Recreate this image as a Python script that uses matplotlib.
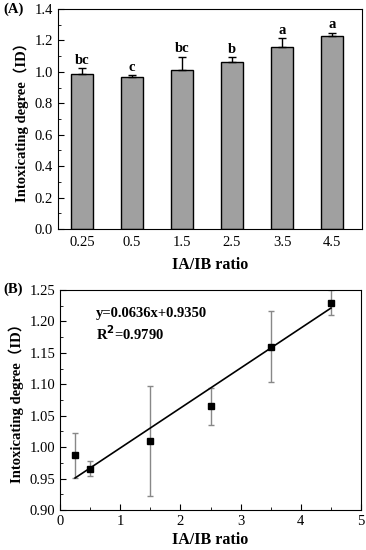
import matplotlib.pyplot as plt
import numpy as np

# IA/IB ratios and intoxicating degree
ratios = [0.25, 0.5, 1.5, 2.5, 3.5, 4.5]
ratio_labels = ['0.25', '0.5', '1.5', '2.5', '3.5', '4.5']
id_mean = [0.987, 0.966, 1.010, 1.065, 1.160, 1.230]
id_err = [0.036, 0.012, 0.087, 0.029, 0.057, 0.020]
sig_letters = ['bc', 'c', 'bc', 'b', 'a', 'a']

# linear fit shown in panel B
slope = 0.0636
intercept = 0.9350
r2 = 0.9790

serif = ['Liberation Serif', 'Noto Sans CJK SC']
plt.rcParams['font.family'] = serif
plt.rcParams['font.size'] = 10.5
plt.rcParams['xtick.direction'] = 'in'
plt.rcParams['ytick.direction'] = 'in'

fig = plt.figure(figsize=(3.66, 5.5), dpi=100)

# ---- Panel A: bars ----
ax1 = fig.add_axes([58 / 366, 1 - 229 / 550, 304 / 366, 220 / 550])
pos = np.arange(len(ratios))
ax1.bar(pos, id_mean, width=0.44, color='#a0a0a0', edgecolor='black', linewidth=1.0,
        yerr=[np.zeros(len(id_err)), id_err], capsize=3,
        error_kw=dict(elinewidth=1.0, capthick=1.0, ecolor='black'))
for p, m, e, s in zip(pos, id_mean, id_err, sig_letters):
    ax1.text(p, m + e + 0.008, s, ha='center', va='bottom', fontsize=10.5, fontweight='bold')
ax1.set_xlim(-0.48, 5.6)
ax1.set_ylim(0, 1.4)
ax1.set_xticks(pos)
ax1.set_xticklabels(ratio_labels)
ax1.set_yticks(np.arange(0, 1.41, 0.2))
ax1.set_yticks(np.arange(0.1, 1.4, 0.2), minor=True)
ax1.yaxis.set_major_formatter(plt.FormatStrFormatter('%.1f'))
ax1.tick_params(axis='x', which='both', length=0, pad=5)
ax1.tick_params(axis='y', which='major', length=4)
ax1.tick_params(axis='y', which='minor', length=2)
ax1.set_xlabel('IA/IB ratio', fontweight='bold', fontsize=11.5, labelpad=6)
ax1.set_ylabel('Intoxicating degree（ID）', fontweight='bold', fontsize=10.5)
fig.text(3 / 366, 1 - 9 / 550, '(A)', fontweight='bold', va='center', ha='left')

# ---- Panel B: regression ----
ax2 = fig.add_axes([60 / 366, 1 - 510 / 550, 301 / 366, 220 / 550])
ax2.errorbar(ratios, id_mean, yerr=id_err, fmt='s', color='black', markersize=4,
             ecolor='#888888', elinewidth=1.0, capsize=2.5, capthick=1.0)
xfit = np.array([ratios[0], ratios[-1]])
ax2.plot(xfit, slope * xfit + intercept, color='black', linewidth=1.2)
ax2.text(0.6, 1.212, 'y=%.4fx+%.4f' % (slope, intercept), fontweight='bold', va='center')
ax2.text(0.6, 1.18, 'R$^\\mathbf{2}$=%.4f' % r2, fontweight='bold', va='center')
ax2.set_xlim(0, 5)
ax2.set_ylim(0.90, 1.25)
ax2.set_xticks(range(0, 6))
ax2.set_xticks(np.arange(0.5, 5, 1), minor=True)
ax2.set_yticks(np.arange(0.90, 1.251, 0.05))
ax2.set_yticks(np.arange(0.925, 1.25, 0.05), minor=True)
ax2.yaxis.set_major_formatter(plt.FormatStrFormatter('%.2f'))
ax2.tick_params(which='major', length=4)
ax2.tick_params(which='minor', length=2)
ax2.set_xlabel('IA/IB ratio', fontweight='bold', fontsize=11.5, labelpad=3)
ax2.set_ylabel('Intoxicating degree（ID）', fontweight='bold', fontsize=10.5)
fig.text(3 / 366, 1 - 289 / 550, '(B)', fontweight='bold', va='center', ha='left')

fig.savefig('out.png', dpi=100)
